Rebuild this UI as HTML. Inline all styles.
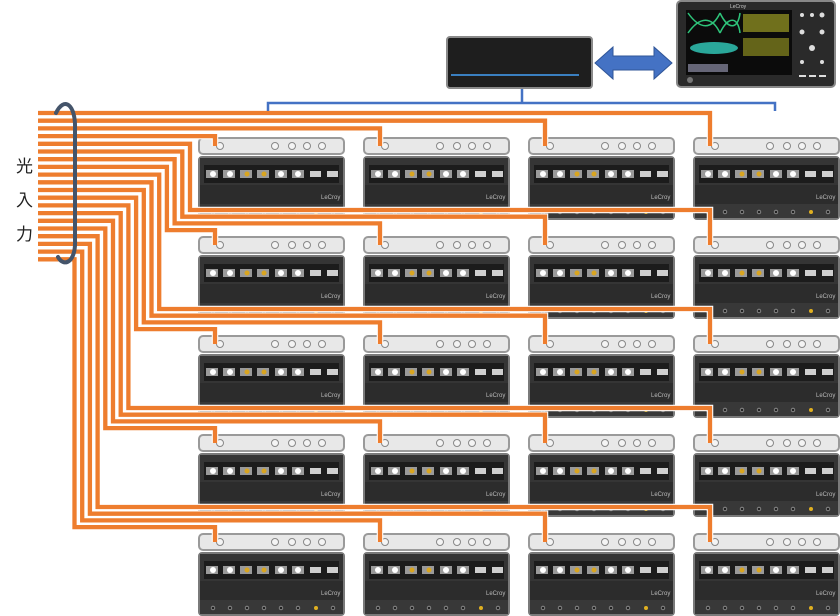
<!DOCTYPE html>
<html><head><meta charset="utf-8">
<style>html,body{margin:0;padding:0;background:#fff;width:840px;height:616px;overflow:hidden}</style>
</head><body>
<svg id="s" width="840" height="616" viewBox="0 0 840 616" xmlns="http://www.w3.org/2000/svg" font-family="Liberation Sans, sans-serif">
<defs>
<symbol id="m" overflow="visible">
  <rect x="1" y="1" width="145" height="16" rx="4" fill="#e8e8e8" stroke="#9a9a9a" stroke-width="2"/>
  <g fill="#f4f4f4" stroke="#888" stroke-width="1">
    <circle cx="22" cy="9" r="3.5"/><circle cx="77" cy="9" r="3.5"/><circle cx="94" cy="9" r="3.5"/><circle cx="109" cy="9" r="3.5"/><circle cx="124" cy="9" r="3.5"/>
  </g>
  <rect x="1" y="20" width="145" height="62" rx="3" fill="#2c2c2c" stroke="#7a7a7a" stroke-width="2"/>
  <rect x="2" y="21" width="143" height="27" fill="#353535"/>
  <rect x="6" y="28" width="135" height="18" fill="#1c1c1c"/>
  <rect x="2" y="67" width="143" height="14" fill="#383838"/>
  <g fill="#9a9a9a">
    <rect x="8" y="33" width="12" height="8"/><rect x="25" y="33" width="12" height="8"/><rect x="42" y="33" width="12" height="8"/><rect x="59" y="33" width="12" height="8"/><rect x="77" y="33" width="12" height="8"/><rect x="94" y="33" width="12" height="8"/><rect x="112" y="34" width="11" height="6" fill="#cfcfcf"/><rect x="129" y="34" width="11" height="6" fill="#cfcfcf"/>
  </g>
  <g fill="#fff"><circle cx="15" cy="37" r="3"/><circle cx="32" cy="37" r="3"/><circle cx="83" cy="37" r="3"/><circle cx="100" cy="37" r="3"/></g>
  <g fill="#d9a520"><circle cx="49" cy="37" r="2.5"/><circle cx="66" cy="37" r="2.5"/></g>
  <text x="123" y="62" font-size="6" fill="#bbb">LeCroy</text>
  <g fill="#222" stroke="#999" stroke-width="0.8">
    <circle cx="15" cy="75" r="1.8"/><circle cx="32" cy="75" r="1.8"/><circle cx="49" cy="75" r="1.8"/><circle cx="66" cy="75" r="1.8"/><circle cx="83" cy="75" r="1.8"/><circle cx="100" cy="75" r="1.8"/><circle cx="135" cy="75" r="1.8"/>
  </g>
  <circle cx="118" cy="75" r="2" fill="#e0b020"/>
</symbol>
</defs>
<g id="mods">
<use href="#m" x="198" y="137"/><use href="#m" x="363" y="137"/><use href="#m" x="528" y="137"/><use href="#m" x="693" y="137"/>
<use href="#m" x="198" y="236"/><use href="#m" x="363" y="236"/><use href="#m" x="528" y="236"/><use href="#m" x="693" y="236"/>
<use href="#m" x="198" y="335"/><use href="#m" x="363" y="335"/><use href="#m" x="528" y="335"/><use href="#m" x="693" y="335"/>
<use href="#m" x="198" y="434"/><use href="#m" x="363" y="434"/><use href="#m" x="528" y="434"/><use href="#m" x="693" y="434"/>
<use href="#m" x="198" y="533"/><use href="#m" x="363" y="533"/><use href="#m" x="528" y="533"/><use href="#m" x="693" y="533"/>
</g>
<g id="fib" fill="none"></g>
<path d="M268 111 V103 H775 V111 M522 103 V88" fill="none" stroke="#4472c4" stroke-width="2.5"/>
<rect x="447" y="37" width="145" height="51" rx="3" fill="#1e1e1e" stroke="#8a8a8a" stroke-width="2"/>
<line x1="451" y1="75" x2="579" y2="75" stroke="#3a7fc0" stroke-width="2"/>
<path d="M595 63 L613 47 V56 H654 V47 L672 63 L654 79 V70 H613 V79 Z" fill="#4472c4" stroke="#2f5597" stroke-width="1"/>
<rect x="677" y="1" width="158" height="86" rx="4" fill="#2a2a2a" stroke="#888" stroke-width="2"/>
<rect x="686" y="10" width="106" height="65" fill="#0b0b0b"/>
<path d="M688 13 C700 30 712 30 720 13 M688 33 C700 16 712 16 720 33 M720 13 C728 30 738 30 740 13 M720 33 C728 16 738 16 740 33" stroke="#2ec47a" stroke-width="1.5" fill="none"/>
<ellipse cx="714" cy="48" rx="24" ry="6" fill="#2aa79a"/>
<rect x="743" y="14" width="46" height="18" fill="#8a8a20" opacity="0.8"/>
<rect x="743" y="38" width="46" height="18" fill="#8a8a20" opacity="0.7"/>
<rect x="688" y="64" width="40" height="8" fill="#667"/>
<text x="730" y="8" font-size="5" fill="#ccc">LeCroy</text>
<g fill="#ddd"><circle cx="802" cy="15" r="2"/><circle cx="812" cy="15" r="2"/><circle cx="822" cy="15" r="2.5"/><circle cx="802" cy="32" r="2.5"/><circle cx="822" cy="32" r="2.5"/><circle cx="812" cy="48" r="3"/><circle cx="802" cy="62" r="2"/><circle cx="822" cy="62" r="2"/><rect x="799" y="75" width="7" height="2"/><rect x="809" y="75" width="7" height="2"/><rect x="819" y="75" width="7" height="2"/></g>
<circle cx="690" cy="80" r="3" fill="#777"/>
<g font-family="Liberation Sans, Noto Sans CJK JP, sans-serif" font-size="17" fill="#222">
<text x="16" y="172">光</text><text x="16" y="206">入</text><text x="16" y="240">力</text>
</g>
<path d="M56 113 C64 96 76 104 75 130 L75 240 C76 262 64 268 58 257" fill="none" stroke="#44546a" stroke-width="4" stroke-linecap="round"/>
</svg>
<script>
(function(){
var g=document.getElementById('fib'),cx=[215,380,545,710],ps=[];
for(var k=0;k<20;k++){
  var y=113+7.7*k,r=Math.floor(k/4),j=k%4,c=3-j,ty=146+99*r,p;
  if(r==0){p='M38 '+y+' H'+cx[c]+' V'+ty;}
  else{var v=190-7.7*(k-4),h=210+99*(r-1)+6.7*j;p='M38 '+y+' H'+v+' V'+h+' H'+cx[c]+' V'+ty;}
  ps.push(p);
}
for(var i=0;i<ps.length;i++){
  var w=document.createElementNS('http://www.w3.org/2000/svg','path');w.setAttribute('d',ps[i]);w.setAttribute('stroke','#fff');w.setAttribute('stroke-width','6.5');g.appendChild(w);
  var e=document.createElementNS('http://www.w3.org/2000/svg','path');e.setAttribute('d',ps[i]);e.setAttribute('stroke','#ee7d2e');e.setAttribute('stroke-width','4.3');g.appendChild(e);
}
})();
</script>
</body></html>
